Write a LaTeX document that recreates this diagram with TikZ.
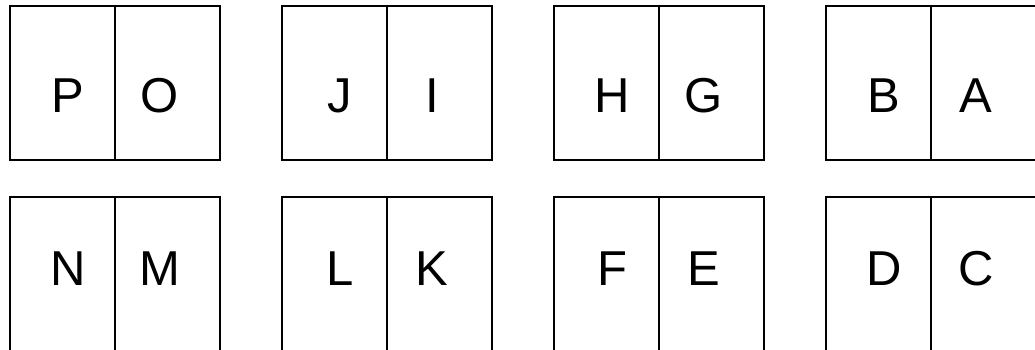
\documentclass[tikz,border=0pt]{standalone}
\usepackage{fontspec}
\setmainfont{Liberation Sans}
\usetikzlibrary{positioning}
\tikzset{
  cellbox/.style={draw, line width=1.4pt, minimum width=105pt, minimum height=154pt,
    inner sep=0pt, outer sep=0pt},
  letter/.style={font=\fontsize{49}{54}\selectfont, inner sep=0pt}
}

\begin{document}
\begin{tikzpicture}[x=1pt,y=-1pt]
  \useasboundingbox (0,0) rectangle (1035,350);
  \clip (0,0) rectangle (1035,350);
  % upper row
  \foreach \x/\l/\r [count=\i] in {10/P/O, 282/J/I, 554/H/G, 826/B/A} {
    \node[cellbox] (ul\i) at (\x+52.5,83) {};
    \node[cellbox, right=0pt of ul\i] (ur\i) {};
    \node[letter] (ula\i) at (\x+58,96) {\l};
    \node[letter] (ura\i) at (\x+150,96) {\r};
  }
  % lower row
  \foreach \x/\l/\r [count=\i] in {10/N/M, 282/L/K, 554/F/E, 826/D/C} {
    \node[cellbox] (ll\i) at (\x+52.5,274) {};
    \node[cellbox, right=0pt of ll\i] (lr\i) {};
    \node[letter] (lla\i) at (\x+58,269) {\l};
    \node[letter] (lra\i) at (\x+150,269) {\r};
  }
\end{tikzpicture}
\end{document}
